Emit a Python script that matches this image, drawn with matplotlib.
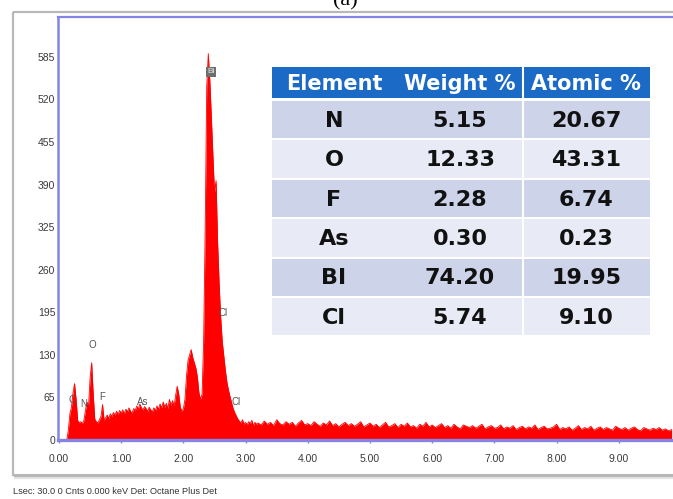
import numpy as np
import matplotlib
matplotlib.use("Agg")
import matplotlib.pyplot as plt
from matplotlib.patches import Rectangle

W, H = 673, 499
SMALL_FONT = ["Liberation Sans", "DejaVu Sans"]

# ---- EDS spectrum (counts per channel) ----
energy_low = np.round(np.arange(0.100, 3.1751, 0.025), 3)
counts_low = [
    0, 0, 15, 40, 50, 72, 86, 62, 30, 26,
    28, 25, 30, 45, 58, 52, 95, 118, 70, 32,
    28, 26, 31, 36, 54, 30, 34, 38, 33, 40,
    36, 42, 38, 44, 39, 45, 41, 46, 40, 47,
    43, 49, 44, 41, 48, 45, 52, 47, 55, 49,
    46, 51, 48, 44, 50, 46, 43, 49, 45, 52,
    47, 55, 49, 58, 50, 56, 48, 62, 53, 60,
    52, 68, 82, 70, 50, 44, 48, 62, 98, 122,
    130, 138, 126, 118, 110, 96, 72, 62, 70, 150,
    320, 540, 590, 548, 492, 432, 378, 396, 302, 238,
    186, 150, 128, 106, 88, 76, 66, 57, 48, 42,
    37, 32, 29, 26, 31, 24, 27, 23, 28, 25,
    30, 22, 27, 24,
]
energy_high = np.round(np.arange(3.20, 9.851, 0.05), 2)
counts_high = [
    26, 23, 29, 24, 27, 22, 31, 25, 23, 28,
    24, 27, 21, 26, 30, 23, 25, 22, 28, 24,
    21, 26, 23, 29, 22, 25, 20, 24, 27, 22,
    25, 21, 24, 28, 20, 23, 26, 21, 24, 19,
    23, 27, 20, 22, 25, 19, 24, 21, 26, 20,
    22, 18, 24, 21, 27, 20, 23, 19, 22, 25,
    19, 22, 18, 24, 20, 17, 23, 21, 19, 22,
    18, 21, 24, 17, 20, 22, 18, 19, 23, 17,
    20, 18, 22, 16, 19, 21, 17, 20, 18, 23,
    16, 19, 21, 17, 18, 20, 24, 16, 19, 17,
    20, 15, 18, 22, 16, 19, 17, 21, 15, 18,
    20, 16, 19, 17, 15, 21, 18, 16, 19, 15,
    18, 20, 16, 14, 19, 17, 15, 18, 16, 19,
    15, 17, 14, 16,
]
energy = np.concatenate([energy_low, energy_high])
counts = np.array(counts_low + counts_high, dtype=float)

y_ticks = [0, 65, 130, 195, 260, 325, 390, 455, 520, 585]
x_ticks = [0, 1, 2, 3, 4, 5, 6, 7, 8, 9]
x_tick_labels = ["0.00", "1.00", "2.00", "3.00", "4.00",
                 "5.00", "6.00", "7.00", "8.00", "9.00"]

# element markers on the spectrum: (label, keV, label height in counts)
peak_names = ["C", "N", "O", "F", "As", "Cl", "Cl"]
peak_kev = [0.21, 0.40, 0.53, 0.69, 1.35, 2.64, 2.85]
peak_label_y = [61, 55, 145, 66, 58, 194, 58]
main_peak_name = "Bi"
main_peak_kev = 2.44
main_peak_label_y = 562

# quantification table
table_header = ["Element", "Weight %", "Atomic %"]
elements = ["N", "O", "F", "As", "BI", "Cl"]
weight_pct = ["5.15", "12.33", "2.28", "0.30", "74.20", "5.74"]
atomic_pct = ["20.67", "43.31", "6.74", "0.23", "19.95", "9.10"]

status_line = "Lsec: 30.0 0 Cnts 0.000 keV Det: Octane Plus Det"

# ---------------------------------------------------------------
fig = plt.figure(figsize=(W / 100, H / 100), dpi=100)
fig.patch.set_facecolor("white")

# background layer in pixel coordinates (panel frame)
bg = fig.add_axes([0, 0, 1, 1], zorder=0)
bg.set_xlim(0, W)
bg.set_ylim(H, 0)
bg.axis("off")
frame_c = "#b8b8b8"
bg.plot([13, 13], [12, 476], color=frame_c, lw=1.6, solid_capstyle="butt")
bg.plot([13, W], [12, 12], color=frame_c, lw=1.6, solid_capstyle="butt")
bg.plot([13, W], [475, 475], color=frame_c, lw=2.2, solid_capstyle="butt")
bg.plot([14, W], [477.5, 477.5], color="#e2e2e2", lw=1.5, solid_capstyle="butt")

# spectrum axes
x_left, x_right = 58, W
y_top, y_bot = 17, 440
ax = fig.add_axes([x_left / W, (H - y_bot) / H,
                   (x_right - x_left) / W, (y_bot - y_top) / H], zorder=1)
px_per_kev = 62.2
px_per_count = 0.655
ax.set_xlim((x_left - 59) / px_per_kev, (x_right - 59) / px_per_kev)
ax.set_ylim(0, (y_bot - y_top) / px_per_count)

ax.fill_between(energy, counts, 0, color="#ff0000", lw=0, zorder=2)
ax.plot(energy, counts, color="#ff0000", lw=0.6, zorder=2)

spine_c = "#8484e4"
for side in ("left", "top", "bottom"):
    ax.spines[side].set_color(spine_c)
ax.spines["left"].set_linewidth(1.8)
ax.spines["top"].set_linewidth(1.6)
ax.spines["bottom"].set_linewidth(2.4)
ax.spines["right"].set_visible(False)

ax.set_yticks(y_ticks)
ax.set_yticklabels([str(v) for v in y_ticks], fontfamily=SMALL_FONT,
                   fontsize=7.5, color="#3a3a3a")
ax.set_xticks(x_ticks)
ax.set_xticklabels(x_tick_labels, fontfamily=SMALL_FONT, fontsize=7.5,
                   color="#3a3a3a")
ax.tick_params(axis="y", length=0, pad=2)
ax.tick_params(axis="x", length=2, width=1, color=spine_c, pad=8)

for name, e, yl in zip(peak_names, peak_kev, peak_label_y):
    ax.text(e, yl, name, ha="center", va="center", fontsize=7,
            fontfamily=SMALL_FONT, color="#555555", zorder=3)
ax.text(main_peak_kev, main_peak_label_y, main_peak_name, ha="center",
        va="center", fontsize=6, fontfamily=SMALL_FONT, color="#e8e8e8",
        zorder=3, bbox=dict(boxstyle="square,pad=0.15", fc="#6e6e6e",
                            ec="none"))

# status line under the panel
fig.text(13 / W, (H - 491) / H, status_line, ha="left", va="center",
         fontsize=6.6, fontfamily=SMALL_FONT, color="#333333")

# panel caption
fig.text(345 / W, (H - 5) / H, "(a)", ha="center", va="baseline",
         fontsize=16, fontfamily="Liberation Serif", color="black")

# ---- quantification table (pixel coordinates) ----
tb = fig.add_axes([0, 0, 1, 1], zorder=3)
tb.set_xlim(0, W)
tb.set_ylim(H, 0)
tb.axis("off")
tb.patch.set_alpha(0)

t_left, t_right = 272, 650
col_split = 523
col_centers = [334, 460, 586]
head_top, head_h = 67, 31
row_top, row_pitch, row_h = 101, 39.4, 37.4
head_c = "#1a6ac6"
row_colors = ["#cdd4e9", "#e8ebf5"]

tb.add_patch(Rectangle((t_left, head_top), t_right - t_left, head_h,
                       fc=head_c, ec="none"))
tb.plot([col_split, col_split], [head_top, head_top + head_h],
        color="white", lw=1.5)
for txt, cx in zip(table_header, col_centers):
    tb.text(cx, head_top + head_h / 2 + 1, txt, ha="center", va="center",
            fontsize=15, fontweight="bold", color="white",
            fontfamily="DejaVu Sans")

for i, (el, wp, ap) in enumerate(zip(elements, weight_pct, atomic_pct)):
    top = row_top + i * row_pitch
    tb.add_patch(Rectangle((t_left, top), t_right - t_left, row_h,
                           fc=row_colors[i % 2], ec="none"))
    tb.plot([col_split, col_split], [top, top + row_h], color="white", lw=1.5)
    cy = top + row_h / 2 + 1
    for txt, cx in zip((el, wp, ap), col_centers):
        tb.text(cx, cy, txt, ha="center", va="center", fontsize=16,
                fontweight="bold", color="#111111", fontfamily="DejaVu Sans")

fig.savefig("out.png", dpi=100, facecolor="white")
